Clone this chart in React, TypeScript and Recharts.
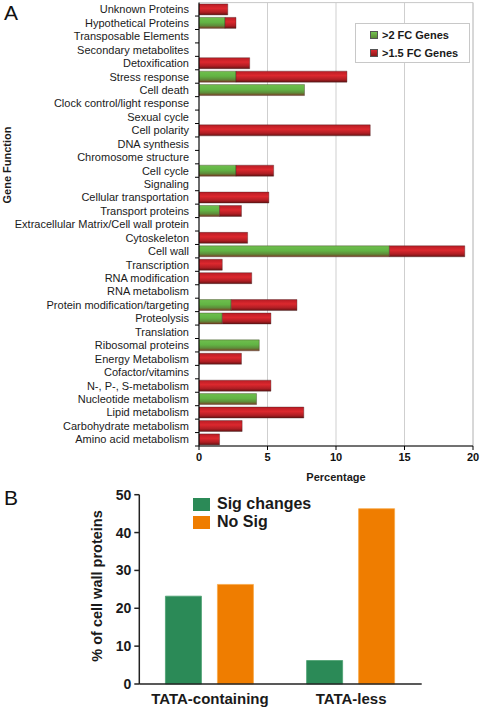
import {
  BarChart,
  Bar,
  XAxis,
  YAxis,
  CartesianGrid,
  Legend,
  ReferenceArea,
} from "recharts";

const FONT = "'Liberation Sans', Arial, sans-serif";

// Panel A: gene function categories, % of genes
const CATEGORIES = [
  "Unknown Proteins",
  "Hypothetical Proteins",
  "Transposable Elements",
  "Secondary metabolites",
  "Detoxification",
  "Stress response",
  "Cell death",
  "Clock control/light response",
  "Sexual cycle",
  "Cell polarity",
  "DNA synthesis",
  "Chromosome structure",
  "Cell cycle",
  "Signaling",
  "Cellular transportation",
  "Transport proteins",
  "Extracellular Matrix/Cell wall protein",
  "Cytoskeleton",
  "Cell wall",
  "Transcription",
  "RNA modification",
  "RNA metabolism",
  "Protein modification/targeting",
  "Proteolysis",
  "Translation",
  "Ribosomal proteins",
  "Energy Metabolism",
  "Cofactor/vitamins",
  "N-, P-, S-metabolism",
  "Nucleotide metabolism",
  "Lipid metabolism",
  "Carbohydrate metabolism",
  "Amino acid metabolism",
];

const FC2 = [
  0, 1.9, 0, 0, 0, 2.7, 7.7, 0, 0, 0, 0, 0, 2.7, 0, 0, 1.5, 0, 0, 13.9, 0, 0, 0,
  2.35, 1.7, 0, 4.4, 0, 0, 0, 4.2, 0, 0, 0,
];
// extra part of the >1.5 FC bar, stacked after the >2 FC part
const FC15 = [
  2.1, 0.8, 0, 0, 3.7, 8.1, 0, 0, 0, 12.5, 0, 0, 2.75, 0, 5.1, 1.6, 0, 3.55, 5.5,
  1.7, 3.85, 0, 4.8, 3.55, 0, 0, 3.1, 0, 5.25, 0, 7.65, 3.15, 1.5,
];
const A_TICKS = [0, 5, 10, 15, 20];

// Panel B
const GROUPS = ["TATA-containing", "TATA-less"];
const SIG = [23.2, 6.2];
const NO_SIG = [26.3, 46.3];
const B_TICKS = [0, 10, 20, 30, 40, 50];

const dataA = CATEGORIES.map((name, i) => ({ name, fc2: FC2[i], fc15: FC15[i] }));
const dataB = GROUPS.map((name, i) => ({ name, sig: SIG[i], nosig: NO_SIG[i] }));

const A_W = 482;
const A_H = 490;
const A_MARGIN = { top: 2.6, right: 9, left: 0, bottom: 0 };
const A_YAXIS_W = 199;
const A_XAXIS_H = 44;
const A_BAND = (A_H - A_MARGIN.top - A_MARGIN.bottom - A_XAXIS_H) / CATEGORIES.length;

// eslint-disable-next-line @typescript-eslint/no-explicit-any
function CategoryTick({ x, y, payload }: any) {
  return (
    <g>
      <text
        x={x}
        y={y}
        dy={4}
        textAnchor="end"
        fontSize={11}
        fontFamily={FONT}
        fill="#1a1a1a"
      >
        {payload.value}
      </text>
      <line
        x1={A_YAXIS_W - 4}
        x2={A_YAXIS_W}
        y1={y + A_BAND / 2}
        y2={y + A_BAND / 2}
        stroke="#000"
        strokeWidth={1}
      />
    </g>
  );
}

function LegendA() {
  const row = (fill: string, label: string) => (
    <div style={{ display: "flex", alignItems: "center", height: 18 }}>
      <div
        style={{
          width: 6,
          height: 6,
          background: fill,
          border: "1px solid #555",
          marginRight: 4,
        }}
      />
      <span style={{ fontSize: 11, fontWeight: "bold", color: "#1a1a1a" }}>
        {label}
      </span>
    </div>
  );
  return (
    <div
      style={{
        border: "1px solid #c8c8c8",
        background: "#fff",
        padding: "2px 0 1px 14px",
        fontFamily: FONT,
        boxSizing: "border-box",
        width: 115,
        height: 40,
      }}
    >
      {row("linear-gradient(#74c452, #5a8a35)", ">2 FC Genes")}
      {row("linear-gradient(#d82830, #8a1818)", ">1.5 FC Genes")}
    </div>
  );
}

function LegendB() {
  const row = (fill: string, label: string) => (
    <div style={{ display: "flex", alignItems: "center", height: 18 }}>
      <div style={{ width: 17, height: 13, background: fill, marginRight: 7 }} />
      <span style={{ fontSize: 16, fontWeight: "bold", color: "#1a1a1a" }}>
        {label}
      </span>
    </div>
  );
  return (
    <div style={{ fontFamily: FONT }}>
      {row("#2b8a57", "Sig changes")}
      {row("#ef7d00", "No Sig")}
    </div>
  );
}

export default function App() {
  return (
    <div
      style={{
        position: "absolute",
        left: 0,
        top: 0,
        width: 482,
        height: 708,
        background: "#fff",
        fontFamily: FONT,
      }}
    >
      <svg
        width={482}
        height={708}
        style={{ position: "absolute", left: 0, top: 0 }}
      >
        <text x={4} y={20} fontSize={21} fontFamily={FONT} fill="#111">
          A
        </text>
        <text x={4} y={505} fontSize={21} fontFamily={FONT} fill="#111">
          B
        </text>
        <text
          transform="translate(11,165) rotate(-90)"
          textAnchor="middle"
          fontSize={11}
          fontWeight="bold"
          fontFamily={FONT}
          fill="#1a1a1a"
        >
          Gene Function
        </text>
        <text
          transform="translate(102,586) rotate(-90)"
          textAnchor="middle"
          fontSize={14.5}
          fontWeight="bold"
          fontFamily={FONT}
          fill="#1a1a1a"
        >
          % of cell wall proteins
        </text>
      </svg>

      <div style={{ position: "absolute", left: 0, top: 0 }}>
        <BarChart
          width={A_W}
          height={A_H}
          data={dataA}
          layout="vertical"
          margin={A_MARGIN}
          barCategoryGap="10%"
        >
          <defs>
            <linearGradient id="gGreen" x1="0" y1="0" x2="0" y2="1">
              <stop offset="0%" stopColor="#6fbf4e" />
              <stop offset="45%" stopColor="#62b444" />
              <stop offset="75%" stopColor="#5e8c3a" />
              <stop offset="100%" stopColor="#7a3a22" />
            </linearGradient>
            <linearGradient id="gRed" x1="0" y1="0" x2="0" y2="1">
              <stop offset="0%" stopColor="#b81c24" />
              <stop offset="40%" stopColor="#dc282e" />
              <stop offset="75%" stopColor="#b01e24" />
              <stop offset="100%" stopColor="#651212" />
            </linearGradient>
          </defs>
          <CartesianGrid horizontal={false} stroke="#cfcfcf" />
          <ReferenceArea
            x1={0}
            x2={20}
            fill="none"
            stroke="#c8c8c8"
            ifOverflow="extendDomain"
          />
          <XAxis
            type="number"
            domain={[0, 20]}
            ticks={A_TICKS}
            height={A_XAXIS_H}
            tickSize={4}
            tickMargin={3}
            axisLine={{ stroke: "#000" }}
            tickLine={{ stroke: "#000" }}
            tick={{ fontSize: 11, fontWeight: "bold", fill: "#111", fontFamily: FONT }}
            label={{
              value: "Percentage",
              position: "insideBottom",
              offset: 9,
              style: { fontSize: 11, fontWeight: "bold", fill: "#1a1a1a", fontFamily: FONT },
            }}
          />
          <YAxis
            type="category"
            dataKey="name"
            width={A_YAXIS_W}
            interval={0}
            tickLine={false}
            tickSize={0}
            tickMargin={10}
            axisLine={{ stroke: "#000" }}
            tick={<CategoryTick />}
          />
          <Legend
            content={<LegendA />}
            layout="horizontal"
            verticalAlign="middle"
            wrapperStyle={{ left: 355, top: 22.7, width: 115, height: 40 }}
          />
          <Bar
            dataKey="fc2"
            name=">2 FC Genes"
            stackId="a"
            fill="url(#gGreen)"
            stroke="rgba(60,40,30,0.45)"
            strokeWidth={0.8}
            isAnimationActive={false}
          />
          <Bar
            dataKey="fc15"
            name=">1.5 FC Genes"
            stackId="a"
            fill="url(#gRed)"
            stroke="rgba(60,30,30,0.45)"
            strokeWidth={0.8}
            isAnimationActive={false}
          />
        </BarChart>
      </div>

      <div style={{ position: "absolute", left: 0, top: 480 }}>
        <BarChart
          width={482}
          height={228}
          data={dataB}
          margin={{ top: 14.7, right: 60.3, left: 0, bottom: 0 }}
          barCategoryGap="18.5%"
          barGap={16}
        >
          <XAxis
            dataKey="name"
            height={24}
            tickLine={false}
            tickMargin={3}
            axisLine={{ stroke: "#222", strokeWidth: 1.5 }}
            tick={{ fontSize: 15, fontWeight: "bold", fill: "#1a1a1a", fontFamily: FONT }}
          />
          <YAxis
            domain={[0, 50]}
            ticks={B_TICKS}
            width={139.3}
            tickSize={5}
            tickMargin={3}
            axisLine={{ stroke: "#222", strokeWidth: 1.5 }}
            tickLine={{ stroke: "#222", strokeWidth: 1.5 }}
            tick={{ fontSize: 14, fontWeight: "bold", fill: "#1a1a1a", fontFamily: FONT }}
          />
          <Legend
            content={<LegendB />}
            layout="horizontal"
            verticalAlign="middle"
            wrapperStyle={{ left: 193, top: 15, width: 140, height: 36 }}
          />
          <Bar
            dataKey="sig"
            name="Sig changes"
            fill="#2b8a57"
            stroke="#4aa070"
            strokeWidth={0.8}
            isAnimationActive={false}
          />
          <Bar
            dataKey="nosig"
            name="No Sig"
            fill="#ef7d00"
            stroke="#f7a848"
            strokeWidth={0.8}
            isAnimationActive={false}
          />
        </BarChart>
      </div>
    </div>
  );
}
